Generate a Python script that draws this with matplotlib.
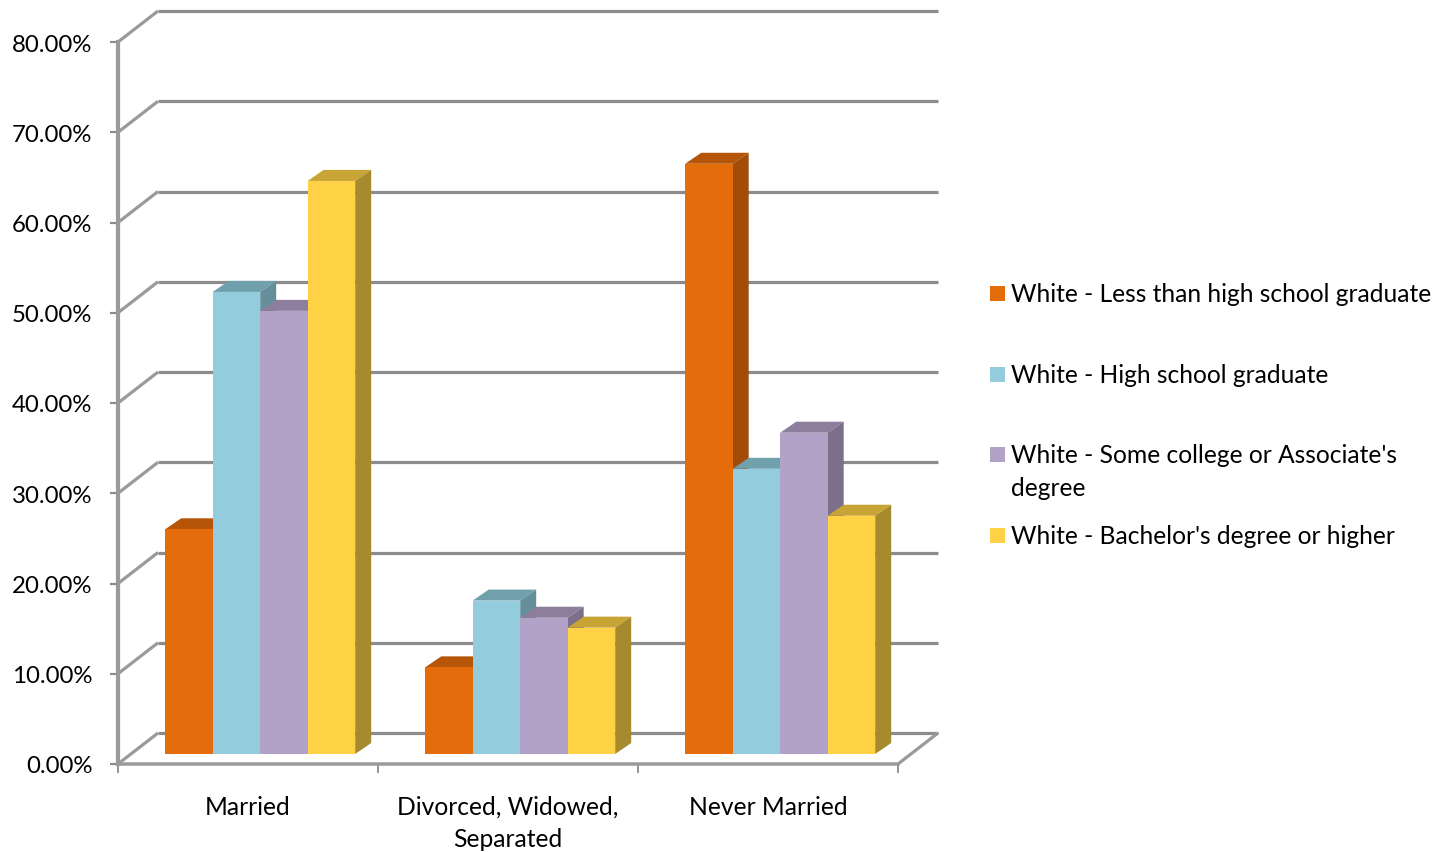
import matplotlib
matplotlib.use("Agg")
import matplotlib.pyplot as plt
from matplotlib.patches import Polygon, Rectangle

plt.rcParams['font.family'] = ['Lato', 'DejaVu Sans']

categories = ["Married", "Divorced, Widowed,\nSeparated", "Never Married"]
series_names = ["White - Less than high school graduate",
                "White - High school graduate",
                "White - Some college or Associate's\ndegree",
                "White - Bachelor's degree or higher"]
less_than_hs = [24.9, 9.6, 65.4]
hs_graduate = [51.2, 17.0, 31.6]
some_college = [49.1, 15.1, 35.6]
bachelors = [63.5, 14.0, 26.4]
values = [less_than_hs, hs_graduate, some_college, bachelors]
front_colors = ["#E46C0A", "#93CDDD", "#B3A2C7", "#FFD145"]
top_colors = ["#B65508", "#71A0AD", "#8C7E9C", "#C8A435"]
side_colors = ["#A34C07", "#658F9B", "#7B6F89", "#A68A2E"]
y_ticks = [0, 10, 20, 30, 40, 50, 60, 70, 80]
y_labels = ["0.00%", "10.00%", "20.00%", "30.00%", "40.00%", "50.00%", "60.00%", "70.00%", "80.00%"]

W, H = 1438, 853
fig = plt.figure(figsize=(W / 100, H / 100), dpi=100)
x0, x1, ytop, ybot = 118, 898, 43, 765
ax = fig.add_axes([x0 / W, 1 - ybot / H, (x1 - x0) / W, (ybot - ytop) / H])
ax.set_xlim(0, 3)
ax.set_ylim(0, 80)
ax.patch.set_visible(False)

PX = 3 / (x1 - x0)          # data units per pixel
PY = 80 / (ybot - ytop)
wall_dx, wall_dy = 40 * PX, 31 * PY
bar_dx, bar_dy = 16 * PX, 11 * PY
base = 10 * PY
width = 47.5 * PX
grid = "#8C8C8C"
lw = 3.2 * 72 / 100

for t in y_ticks:
    ax.plot([wall_dx, 3 + wall_dx], [t + wall_dy] * 2, color=grid, lw=lw, zorder=1,
            clip_on=False, solid_capstyle='butt')
    ax.plot([0, wall_dx], [t, t + wall_dy], color="#9A9A9A", lw=lw, zorder=1,
            clip_on=False, solid_capstyle='butt')
ax.plot([3, 3 + wall_dx], [0, wall_dy], color="#9A9A9A", lw=lw, zorder=1,
        clip_on=False, solid_capstyle='butt')

z = 3
for g in range(3):
    left = g + 0.1815
    for s in range(4):
        xl = left + s * width
        top = base + values[s][g]
        xr = xl + width
        ax.add_patch(Polygon([(xl, top), (xr, top), (xr + bar_dx, top + bar_dy), (xl + bar_dx, top + bar_dy)],
                             closed=True, fc=top_colors[s], ec='none', zorder=z, clip_on=False))
        ax.add_patch(Polygon([(xr, base), (xr + bar_dx, base + bar_dy), (xr + bar_dx, top + bar_dy), (xr, top)],
                             closed=True, fc=side_colors[s], ec='none', zorder=z, clip_on=False))
        z += 1
        ax.bar(xl, values[s][g], width=width, bottom=base, align='edge', color=front_colors[s],
               zorder=z, clip_on=False, linewidth=0)
        z += 1

for sp in ['top', 'right']:
    ax.spines[sp].set_visible(False)
ax.spines['left'].set_linewidth(4.2 * 72 / 100)
ax.spines['left'].set_color("#9A9A9A")
ax.spines['bottom'].set_linewidth(3.5 * 72 / 100)
ax.spines['bottom'].set_color("#9A9A9A")
ax.spines['left'].set_zorder(2)

ax.set_yticks(y_ticks, y_labels)
ax.set_xticks([0, 1, 2, 3], [""] * 4)
ax.tick_params(axis='y', length=6, width=1.6, color="#8C8C8C", pad=12.5, labelsize=17.3, labelcolor="black")
ax.tick_params(axis='x', length=6.5, width=1.3, color="#8C8C8C")
for i, c in enumerate(categories):
    ax.text(i + 0.5, -(796 - ybot) * PY, c, ha='center', va='top', fontsize=17.7,
            linespacing=1.49, color='black', clip_on=False)

# legend
for n, c, yc in zip(series_names, front_colors, [294, 375, 455, 536]):
    fig.patches.append(Rectangle((990 / W, 1 - (yc + 8) / H), 15 / W, 15 / H,
                                 transform=fig.transFigure, fc=c, ec='none'))
    fig.text(1011 / W, 1 - (yc - 10.5) / H, n, ha='left', va='top', fontsize=17.7,
             linespacing=1.49, color='black')

fig.savefig("out.png", dpi=100)
